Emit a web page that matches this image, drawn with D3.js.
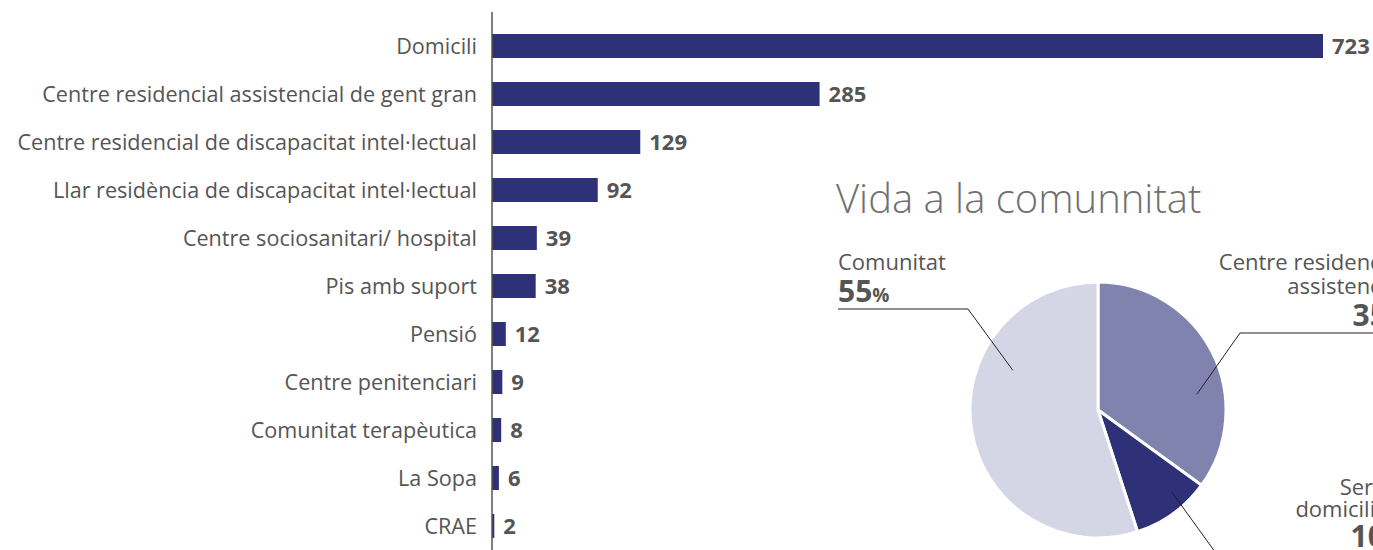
<!DOCTYPE html>
<html><head><meta charset="utf-8">
<script src="https://cdn.jsdelivr.net/npm/d3@7"></script>
<style>body{margin:0;background:#fff;overflow:hidden}svg{display:block}</style>
</head><body>
<svg id="c" width="1373" height="550"></svg>
<script>
const categories = ["Domicili","Centre residencial assistencial de gent gran","Centre residencial de discapacitat intel·lectual","Llar residència de discapacitat intel·lectual","Centre sociosanitari/ hospital","Pis amb suport","Pensió","Centre penitenciari","Comunitat terapèutica","La Sopa","CRAE"];
const values = [723,285,129,92,39,38,12,9,8,6,2];
const pieLabels = ["Centre residencial|assistencial","Servei|domiciliari","Comunitat"];
const pieValues = [35,10,55];
const pieTitle = "Vida a la comunnitat";

const svg = d3.select("#c");
const font = "'Open Sans', Lato, sans-serif";
const barColor = "#2e3078";
const textColor = "#555";

const x = d3.scaleLinear().domain([0,723]).range([492,1323]);
const y = d3.scaleBand().domain(categories).range([22,550]).paddingInner(0.5).paddingOuter(0.25);

svg.append("g").selectAll("rect").data(values).join("rect")
  .attr("x", x(0)).attr("y",(d,i)=>y(categories[i]))
  .attr("width", d=>x(d)-x(0)).attr("height", y.bandwidth()).attr("fill", barColor);

svg.append("line").attr("x1",492).attr("x2",492).attr("y1",12).attr("y2",550)
  .attr("stroke","#555").attr("stroke-width",1.5);

svg.append("g").selectAll("text").data(categories).join("text")
  .attr("x",477).attr("y",d=>y(d)+y.bandwidth()/2).attr("dy","0.36em")
  .attr("text-anchor","end").attr("font-family",font).attr("font-size",21.6)
  .attr("fill",textColor).text(d=>d);

svg.append("g").selectAll("text").data(values).join("text")
  .attr("x",d=>x(d)+9).attr("y",(d,i)=>y(categories[i])+y.bandwidth()/2).attr("dy","0.36em")
  .attr("font-family",font).attr("font-size",22).attr("font-weight","bold")
  .attr("fill",textColor).text(d=>d);

// Pie
svg.append("text").attr("x",836).attr("y",213).attr("font-family",font).attr("font-weight",300)
  .attr("font-size",40).attr("fill","#707070").text(pieTitle);

const cx=1098, cy=410, r=128;
const pieColors = ["#8083ae","#2e3078","#d5d6e5"];
const arcs = d3.pie().sort(null).value(d=>d)(pieValues);
const arc = d3.arc().innerRadius(0).outerRadius(r);
const pg = svg.append("g").attr("transform",`translate(${cx},${cy})`);
pg.selectAll("path").data(arcs).join("path").attr("d",arc)
  .attr("fill",(d,i)=>pieColors[i]).attr("stroke","#fff").attr("stroke-width",3);

// leader line anchor points (polar, degrees clockwise from top)
function polar(deg, rad){ const a=deg*Math.PI/180; return [cx+rad*Math.sin(a), cy-rad*Math.cos(a)]; }
const p0=polar(81,100), p1=polar(138,110), p2=polar(295,94);
const line = d3.line();
function lead(pts){ svg.append("path").attr("d",line(pts)).attr("fill","none").attr("stroke","#222").attr("stroke-width",1); }
lead([[838,309],[968,309],p2]);
lead([[1420,333],[1240,333],p0]);
lead([p1,[1218,556]]);

function label(xp, anchor, yp, idx, step, gap){
  const lines = pieLabels[idx].split("|");
  const t = svg.append("g").attr("text-anchor",anchor);
  lines.forEach((l,k)=>{
    t.append("text").attr("x",xp).attr("y",yp+k*step)
      .attr("font-family",font).attr("font-size",22).attr("fill",textColor).text(l);
  });
  const v = t.append("text").attr("x",xp).attr("y",yp+(lines.length-1)*step+gap)
    .attr("font-family",font).attr("font-weight","bold").attr("fill",textColor);
  v.append("tspan").attr("font-size",30).text(pieValues[idx]);
  v.append("tspan").attr("font-size",19).text("%");
}
label(838,"start",270,2,24,32);
label(1404,"end",270,0,24,32);
label(1402,"end",495,1,22,30);
</script>
</body></html>
